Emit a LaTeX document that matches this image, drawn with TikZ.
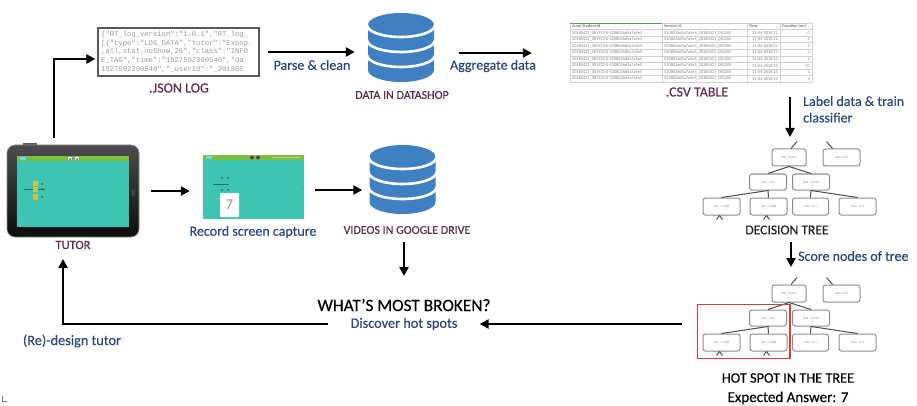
\documentclass[tikz,border=0pt]{standalone}
\usepackage{fontspec}
\setmainfont{Carlito}[FakeBold=0.35]
\newfontfamily\codefont{Liberation Mono}
\newfontfamily\cellfont{Carlito}
\usetikzlibrary{arrows.meta,calc}

\definecolor{dbblue}{HTML}{3F80C3}
\definecolor{flowblue}{HTML}{28477A}
\definecolor{capcolor}{HTML}{5C2D4E}
\definecolor{screenteal}{HTML}{3EC4B3}
\definecolor{bargreen}{HTML}{7DBE3C}
\definecolor{hotred}{HTML}{D63B3F}
\definecolor{treegray}{HTML}{8C8C8C}
\definecolor{figteal}{HTML}{1E6F66}

\tikzset{
  arr/.style={line width=2.4pt, -{Triangle[length=9pt,width=9pt]}},
  flow/.style={font=\fontsize{14}{16.5}\selectfont, text=flowblue, inner sep=0pt},
  caption/.style={font=\fontsize{12}{14}\selectfont, text=capcolor, inner sep=0pt},
  bigcap/.style={font=\fontsize{13.6}{16}\selectfont, text=black!88, inner sep=0pt},
  tnode/.style={draw=treegray, line width=1pt, rounded corners=2.5pt, fill=white,
    minimum height=17pt, inner sep=0pt, font=\cellfont\fontsize{3.2}{4}\selectfont, text=black!50},
  tedge/.style={draw=black!70, line width=1pt},
  cell/.style={font=\cellfont\fontsize{4.3}{5}\selectfont, text=black!50, inner sep=0pt},
}

% database icon: #1 name, #2 centre x, #3 top y
\newcommand\dbcylinder[3]{%
  \fill[dbblue] (#2-33,#3+12) -- (#2-33,#3+57)
     arc[start angle=180,end angle=0,x radius=33,y radius=12]
     -- (#2+33,#3+12)
     arc[start angle=0,end angle=-180,x radius=33,y radius=12] -- cycle;
  \foreach \dy in {12,27,42}{
    \draw[white, line width=2.6pt] (#2-34,#3+\dy)
      arc[start angle=180,end angle=0,x radius=34,y radius=12];}
  \node[inner sep=0pt, minimum width=66pt, minimum height=69pt] (#1) at (#2,#3+34.5) {};
}

% small decision tree: #1 vertical offset, #2 name prefix
\newcommand\dtree[2]{%
  \begin{scope}[shift={(0,#1)}]
    \node[tnode, minimum width=34pt] (#2r)  at (789,157.5)   {Gini = 0.011};
    \node[tnode, minimum width=37pt] (#2s)  at (841.5,157.5) {Gini = 0.0};
    \node[tnode, minimum width=37pt, minimum height=16pt] (#2a) at (768,182) {Gini = 0.01};
    \node[tnode, minimum width=37pt, minimum height=16pt] (#2b) at (811,182) {Gini = 0.444};
    \node[tnode, minimum width=37pt] (#2c1) at (721.5,206.5) {Gini = 0.188};
    \node[tnode, minimum width=37pt] (#2c2) at (768.5,206.5) {Gini = 0.058};
    \node[tnode, minimum width=36pt] (#2c3) at (810.5,206.5) {Gini = 0.0};
    \node[tnode, minimum width=37pt] (#2c4) at (857.5,206.5) {Gini = 0.0};
    \draw[tedge] (#2r.south) -- (#2a.north);
    \draw[tedge] (#2r.south) -- (#2b.north);
    \draw[tedge] (#2a.south) -- (#2c1.north);
    \draw[tedge] (#2a.south) -- (#2c2.north);
    \draw[tedge] (#2b.south) -- (#2c3.north);
    \draw[tedge] (#2b.south) -- (#2c4.north);
    % edges continuing to the parts of the tree not shown
    \draw[tedge] ([xshift=2pt]#2r.north) -- ++(6,-7);
    \draw[tedge] ([xshift=-9pt]#2s.north) -- ++(-6,-7);
    \draw[tedge] ([xshift=-2pt]#2c1.south) -- ++(-3,4);
    \draw[tedge] ([xshift=-2pt]#2c1.south) -- ++(3,4);
    \draw[tedge] ([xshift=-2pt]#2c2.south) -- ++(-3,4);
    \draw[tedge] ([xshift=-2pt]#2c2.south) -- ++(3,4);
  \end{scope}
}

\begin{document}
\begin{tikzpicture}[x=1pt,y=-1pt]
\useasboundingbox (0,0) rectangle (917,406);
\fill[white] (0,0) rectangle (917,406);

% ---------- tablet running the tutor ----------
\fill[black!65] (23,143.5) rectangle (37,146);
\node[draw=black!45, line width=0.6pt, rounded corners=8pt, minimum width=132pt,
      minimum height=92pt, inner sep=0pt, top color=black!70, bottom color=black!95]
      (tablet) at (73,191) {};
\fill[screenteal] (17,156) rectangle (129,227);
\fill[bargreen] (17,156) rectangle (129,161.5);
\fill[blue!25!cyan!60] (20,157) rectangle (26,160.5);
\filldraw[fill=white, draw=black!60, line width=0.4pt] (70,158.5) circle[radius=2.4] (77,158.5) circle[radius=2.4];
\fill[black!70] (70,159) circle[radius=1] (77,159) circle[radius=1];
\draw[figteal, line width=0.8pt] (24,189) -- (45,189);
\fill[yellow!75!black!90] (33,181) rectangle (38,186) (33,187) rectangle (38,192) (33,194) rectangle (38,200);
\fill[figteal] (42,184) circle[radius=1] (42,197) circle[radius=1] (42,189) circle[radius=1];
\fill[black!75, rounded corners=1pt] (131,189) rectangle (135,196);
\node[caption, font=\fontsize{12.5}{14}\selectfont] (tutorlbl) at (73,245) {TUTOR};

% ---------- screen capture ----------
\node[fill=screenteal, minimum width=101pt, minimum height=64pt, inner sep=0pt] (capture) at (253.5,187) {};
\fill[bargreen] (203,155) rectangle (304,160.5);
\fill[blue!25!cyan!60] (206,156) rectangle (212,159.5);
\fill[black!70] (252,157.6) circle[radius=2] (258,157.6) circle[radius=2];
\fill[bargreen!60!white] (272,157) rectangle (300,158);
\draw[figteal, line width=0.8pt] (213,184) -- (229,184);
\fill[figteal] (222,178) circle[radius=1] (222,190) circle[radius=1] (228,178) circle[radius=1] (228,190) circle[radius=1];
\fill[white, rounded corners=1pt] (220,193) rectangle (239,217);
\node[text=black!40, font=\cellfont\fontsize{15}{15}\selectfont, inner sep=0pt] at (229.5,205) {7};
\fill[figteal!70] (302,187) rectangle (303,189);
\node[flow] (recordlbl) at (253,232) {Record screen capture};

% ---------- JSON log ----------
\node[draw=black!65, line width=1.3pt, minimum width=161pt, minimum height=48pt, inner sep=0pt] (json) at (178.5,52) {};
\begin{scope}
  \clip (99,29) rectangle (258,75);
  \node[anchor=north west, inner sep=0pt, align=left, text=black!40,
        font=\codefont\fontsize{7.2}{8.7}\selectfont] at (101,31)
  {\{"RT\_log\_version":"1.0.1","RT\_log\_\\
   {[}\{"type":"LOG\_DATA","tutor":"Expop.\\
   ,all,stat,noShow,26","class":"INFO\\
   E\_TAG","time":"1527592390540","da\\
   1527592390540","\_userId":"\_201805};
\end{scope}
\node[caption, font=\fontsize{14}{16}\selectfont] (jsonlbl) at (179,88) {.JSON LOG};

% ---------- DataShop ----------
\dbcylinder{dbshop}{401}{13}
\node[caption] (dbshoplbl) at (402,95) {DATA IN DATASHOP};

% ---------- CSV table ----------
\node[inner sep=0pt, minimum width=242pt, minimum height=59pt] (csv) at (691,52.5) {};
\foreach \i in {0,...,9}{
  \draw[black!18, line width=0.4pt] (570,23+\i*6.556) -- (812,23+\i*6.556);}
\foreach \x in {570,662,747,780,812}{
  \draw[black!18, line width=0.4pt] (\x,23) -- (\x,82);}
\draw[green!50!black!70, line width=0.6pt] (570,23) -- (662,23);
\node[cell, anchor=west, text=black!70] at (572,26.3) {Anon Student Id};
\node[cell, anchor=west, text=black!70] at (664,26.3) {Session Id};
\node[cell, anchor=west, text=black!70] at (749,26.3) {Time};
\node[cell, anchor=west, text=black!70] at (782,26.3) {Duration (sec)};
\foreach \i/\s/\d/\t in {1/081913/0/22,2/081913/5/22,3/081913/5/22,4/081922/4/22,
                         5/081922/4/22,6/081922/10/23,7/081922/3/23,8/081922/3/23}{
  \node[cell, anchor=west] at (572,26.3+\i*6.556) {20180421\_\s-0-5208026d5a7a5e5};
  \node[cell, anchor=west] at (664,26.3+\i*6.556) {5208026d5a7a5e5\_20180421\_081205};
  \node[cell, anchor=east] at (778,26.3+\i*6.556) {21-04-2018 \t};
  \node[cell, anchor=east] at (810,26.3+\i*6.556) {\d};}
\node[caption, font=\fontsize{14}{16}\selectfont] (csvlbl) at (697,92) {.CSV TABLE};

% ---------- Google Drive ----------
\dbcylinder{videos}{402.5}{145}
\node[caption] (videoslbl) at (407,230) {VIDEOS IN GOOGLE DRIVE};

% ---------- decision trees ----------
\dtree{0}{t1}
\node[bigcap] (treelbl) at (787,230) {DECISION TREE};
\dtree{136}{t2}
\draw[hotred, line width=1.6pt] ($(t2c1.south west)+(-5,7)$) rectangle ($(t2a.north east)+(3,-5)$);
\node[bigcap, text=black, font=\fontsize{14.3}{17}\selectfont] (hotlbl) at (788,378) {HOT SPOT IN THE TREE};
\node[bigcap, text=black, font=\fontsize{15}{17}\selectfont] (answerlbl) at (788,398) {Expected Answer: 7};

% ---------- centre of the loop ----------
\node[inner sep=0pt, text=black, font=\fontsize{17.3}{20}\selectfont] (broken) at (404,305) {WHAT’S MOST BROKEN?};
\node[flow, font=\fontsize{14.3}{17}\selectfont, inner xsep=22pt] (discover) at (404,324) {Discover hot spots};
\node[flow, font=\fontsize{14.3}{17}\selectfont] (redesign) at (72,341) {(Re)-design tutor};

% ---------- connector end points ----------
\coordinate (csvout)   at (790,97);
\coordinate (t1in)     at (790,137);
\coordinate (t1out)    at (791,242);
\coordinate (t2in)     at (791,267);
\coordinate (vidout)   at (404,242);
\coordinate (brokenin) at (404,276);
\coordinate (hotout)   at (682,324);
\coordinate (tutorin)  at (63,259);

% ---------- connectors ----------
\draw[arr, shorten <=7pt, shorten >=2pt] ([xshift=-19pt]tablet.north) |- ([yshift=-7pt]json.west);
\draw[arr, shorten <=8pt, shorten >=13pt] (json.east) -- (json.east -| dbshop.west);
\node[flow] (parselbl) at (312,65) {Parse \& clean};
\draw[arr, shorten <=25pt, shorten >=38pt] ([yshift=-5.5pt]dbshop.east) -- ([yshift=-5.5pt]dbshop.east -| csv.west);
\node[flow] (aggrlbl) at (493,66) {Aggregate data};
\draw[arr] (csvout) -- (t1in);
\node[flow, anchor=north west, align=left] (labellbl) at (803,96) {Label data \& train\\classifier};
\draw[arr] (t1out) -- (t2in);
\node[flow, anchor=west] (scorelbl) at (798,256) {Score nodes of tree};
\draw[arr, shorten <=12pt, shorten >=13pt] (tablet.east) -- (tablet.east -| capture.west);
\draw[arr, shorten <=11pt, shorten >=7pt] ([yshift=-3pt]capture.east) -- ([yshift=-3pt]capture.east -| videos.west);
\draw[arr] (vidout) -- (brokenin);
\draw[arr] (hotout) -- (discover.east);
\draw[arr] (discover.west) -| (tutorin);

% small mark at the lower left corner
\draw[black!55, line width=0.7pt] (2.5,396) -- (2.5,401.5) -- (7,401.5);
\end{tikzpicture}
\end{document}
